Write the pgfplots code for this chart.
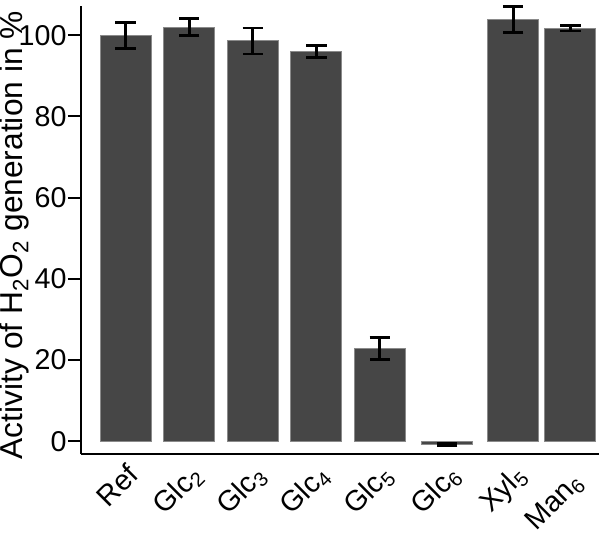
\documentclass[border=0pt]{standalone}
\usepackage{pgfplots}
\pgfplotsset{compat=1.18}
\usepackage{fontspec}
\setmainfont{Liberation Sans}
\definecolor{barfill}{HTML}{464646}
\definecolor{baredge}{HTML}{8A8A8A}

\begin{document}
\begin{tikzpicture}[font=\fontsize{14}{16}\selectfont]
\begin{axis}[scale only axis,width=253pt,height=219pt,
  xmin=-0.7,xmax=7.45,ymin=-3.2,ymax=107.2,
  axis lines=left,axis line style={line width=1pt,-},
  ytick={0,20,...,100},
  xtick={0,1,2,3,4,5.06,6.1,7},
  xticklabels={Ref,Glc\textsubscript{2},Glc\textsubscript{3},Glc\textsubscript{4},Glc\textsubscript{5},Glc\textsubscript{6},Xyl\textsubscript{5},{\raisebox{-2.5pt}[\height]{Man\textsubscript{6}}\hspace*{2.5pt}}},
  x tick label style={rotate=45,anchor=north east,inner sep=0pt,xshift=2pt,yshift=2pt},
  y tick label style={inner sep=0.5pt},
  major x tick style={draw=none},
  y tick style={line width=1pt,black},
  tick align=outside,major tick length=6.5pt,
  /pgf/number format/assume math mode=true,
  ylabel={Activity of H\textsubscript{2}O\textsubscript{2} generation in \%},
  ylabel style={font=\fontsize{15.5}{17}\selectfont,inner sep=0pt,yshift=-6pt,xshift=-2.5pt},
  ybar,bar width=25pt,
  clip=false]
\addplot[fill=barfill,draw=baredge,line width=0.5pt,
  error bars/.cd,y dir=both,y explicit,
  error bar style={line width=1.3pt,black},
  error mark options={rotate=90,mark size=5pt,line width=1.3pt,black}]
  coordinates {
  (0,100) +- (0,3.2)
  (1,102) +- (0,2.1)
  (2,98.6) +- (0,3.2)
  (3,96.0) +- (0,1.5)
  (4,22.8) +- (0,2.7)
  (5.06,-0.9) +- (0,0.3)
  (6.1,103.8) +- (0,3.2)
  (7,101.7) +- (0,0.7)
  };
\end{axis}
\end{tikzpicture}
\end{document}
